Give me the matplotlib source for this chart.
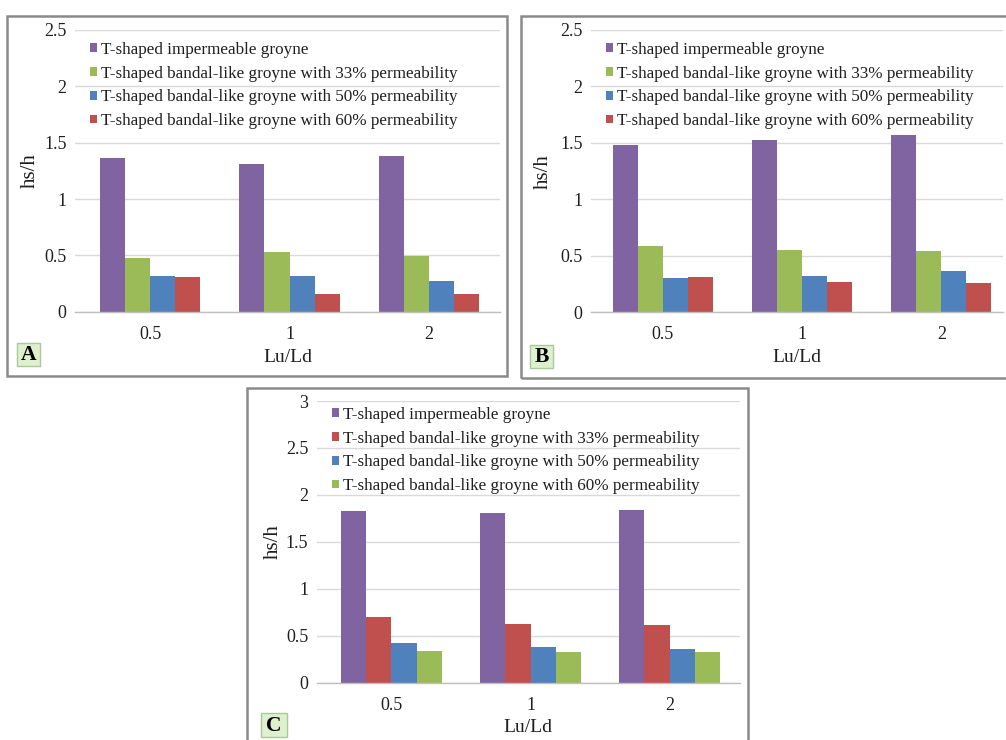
import matplotlib
matplotlib.use("Agg")
import matplotlib.pyplot as plt
from matplotlib.patches import Rectangle
from matplotlib.ticker import FuncFormatter
import numpy as np

plt.rcParams["font.family"] = ["Liberation Serif", "DejaVu Serif"]

W, H = 1006, 740

categories = ["0.5", "1", "2"]
series_labels = [
    "T-shaped impermeable groyne",
    "T-shaped bandal-like groyne with 33% permeability",
    "T-shaped bandal-like groyne with 50% permeability",
    "T-shaped bandal-like groyne with 60% permeability",
]

# hs/h for each Lu/Ld ratio
a_impermeable = [1.36, 1.31, 1.38]
a_perm33 = [0.48, 0.53, 0.495]
a_perm50 = [0.32, 0.315, 0.27]
a_perm60 = [0.31, 0.16, 0.155]

b_impermeable = [1.48, 1.53, 1.57]
b_perm33 = [0.59, 0.55, 0.545]
b_perm50 = [0.30, 0.32, 0.365]
b_perm60 = [0.31, 0.27, 0.26]

c_impermeable = [1.83, 1.81, 1.84]
c_perm33 = [0.70, 0.63, 0.61]
c_perm50 = [0.425, 0.38, 0.355]
c_perm60 = [0.34, 0.33, 0.325]

PURPLE, GREEN, BLUE, RED = "#8064A2", "#9BBB59", "#4F81BD", "#C0504D"
TEXT = "#1f1f1f"

fig = plt.figure(figsize=(W / 100, H / 100), dpi=100)
fig.patch.set_facecolor("white")


def fx(px):
    return px / W


def fy(py):
    return 1 - py / H


def frame(l, t, r, b):
    fig.patches.append(Rectangle((fx(l), fy(b)), fx(r - l), (b - t) / H,
                                 transform=fig.transFigure, fill=False,
                                 ec="#8a8a8a", lw=1.8, zorder=0))


def tag(l, t, r, b, letter):
    fig.patches.append(Rectangle((fx(l), fy(b)), fx(r - l), (b - t) / H,
                                 transform=fig.transFigure, fc="#dff0cf",
                                 ec="#a9c99a", lw=1.0, zorder=1))
    fig.text(fx((l + r) / 2), fy((t + b) / 2 + 1), letter, ha="center",
             va="center", fontsize=15.5, fontweight="bold", color="black")


def panel(box, xlim, ytop, series, colors, ylab_x, xlab_y, leg_dy):
    l, t, r, b = box
    ax = fig.add_axes([fx(l), fy(b), fx(r - l), (b - t) / H])
    x = np.arange(len(categories))
    w = 0.18
    handles = []
    for i, (vals, col) in enumerate(zip(series, colors)):
        h = ax.bar(x + (i - 1.5) * w, vals, width=w, color=col, lw=0,
                   zorder=2)
        handles.append(h)
    ax.set_xlim(*xlim)
    ax.set_ylim(0, ytop)
    ax.set_yticks(np.arange(0, ytop + 0.01, 0.5))
    ax.yaxis.set_major_formatter(FuncFormatter(lambda v, p: "%g" % v))
    ax.set_xticks(x)
    ax.set_xticklabels(categories)
    ax.yaxis.grid(True, color="#d9d9d9", lw=1.0)
    ax.set_axisbelow(True)
    for s in ("top", "right", "left"):
        ax.spines[s].set_visible(False)
    ax.spines["bottom"].set_color("#bfbfbf")
    ax.spines["bottom"].set_linewidth(1.0)
    ax.tick_params(axis="both", length=0, labelsize=13, colors=TEXT)
    ax.tick_params(axis="y", pad=6)
    ax.tick_params(axis="x", pad=10)
    ax.set_ylabel("hs/h", fontsize=15, color=TEXT)
    ax.set_xlabel("Lu/Ld", fontsize=14, color=TEXT)
    ax.yaxis.set_label_coords((ylab_x - l) / (r - l), 0.5)
    ax.xaxis.set_label_coords(0.5, -(xlab_y - b) / (b - t))
    ax.xaxis.label.set_va("center")
    ax.yaxis.label.set_va("center")
    ax.legend(handles, series_labels, loc="upper left",
              bbox_to_anchor=(15 / (r - l), 1 - leg_dy / (b - t)),
              frameon=False, fontsize=12.3, handlelength=0.42,
              handleheight=0.42, handletextpad=0.25, labelspacing=0.45,
              borderpad=0, borderaxespad=0, labelcolor=TEXT)
    return ax


# panel frames
frame(7, 16, 507, 376)
frame(521, 16, 1012, 378)
frame(247, 388, 748, 745)

panel((75, 30, 500, 311.7), (-0.538, 2.509), 2.5,
      [a_impermeable, a_perm33, a_perm50, a_perm60],
      [PURPLE, GREEN, BLUE, RED], 30, 357, 12)
panel((591, 30, 1003, 312.3), (-0.516, 2.443), 2.5,
      [b_impermeable, b_perm33, b_perm50, b_perm60],
      [PURPLE, GREEN, BLUE, RED], 543, 358, 12)
panel((316.7, 401, 740, 682.7), (-0.538, 2.507), 3.0,
      [c_impermeable, c_perm33, c_perm50, c_perm60],
      [PURPLE, RED, BLUE, GREEN], 273, 728, 6)

tag(17, 343, 40, 366, "A")
tag(530, 345, 553, 368, "B")
tag(261, 713, 287, 737, "C")

fig.savefig("out.png", dpi=100, facecolor="white")
